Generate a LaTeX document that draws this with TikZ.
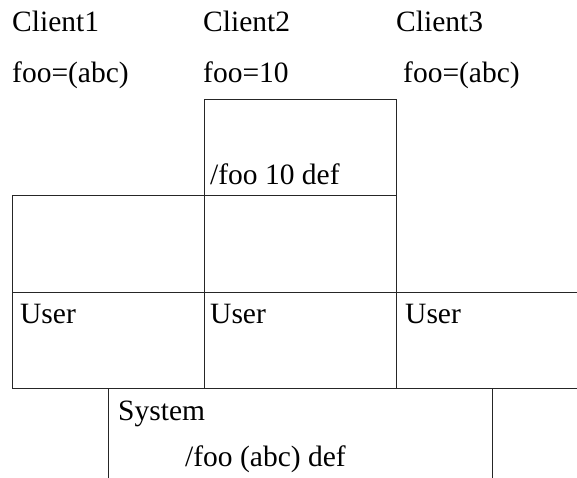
\documentclass[tikz,border=0pt]{standalone}
\usepackage{fontspec}
\setmainfont{Liberation Serif}
\begin{document}
\begin{tikzpicture}[x=1pt,y=-1pt,
  lbl/.style={anchor=base west,inner sep=0pt,font=\fontsize{29.5}{34}\selectfont},
  edge/.style={draw=black!85,line width=1pt}]
\useasboundingbox (0,0) rectangle (577,478);
% labels
\node[lbl] (c1) at (12,32) {Client1};
\node[lbl] (c2) at (203,32) {Client2};
\node[lbl] (c3) at (396,32) {Client3};
\node[lbl] (f1) at (12,83) {foo=(abc)};
\node[lbl] (f2) at (203,83) {foo=10};
\node[lbl] (f3) at (403,83) {foo=(abc)};
\node[lbl] (d2) at (210,185) {/foo 10 def};
\node[lbl] (u1) at (20,323) {User};
\node[lbl] (u2) at (210,323) {User};
\node[lbl] (u3) at (405,323) {User};
\node[lbl] (sys) at (118,420) {System};
\node[lbl] (sd) at (185,466) {/foo (abc) def};
% box of client2
\draw[edge] (204,196) -- (204,100) -- (396,100) -- (396,388);
% middle row
\draw[edge] (12,388) -- (12,196) -- (396,196);
\draw[edge] (204,196) -- (204,388);
% user row
\draw[edge] (12,292) -- (577,292);
\draw[edge] (12,388) -- (577,388);
% system
\draw[edge] (108,388) -- (108,478);
\draw[edge] (492,388) -- (492,478);
\end{tikzpicture}
\end{document}
